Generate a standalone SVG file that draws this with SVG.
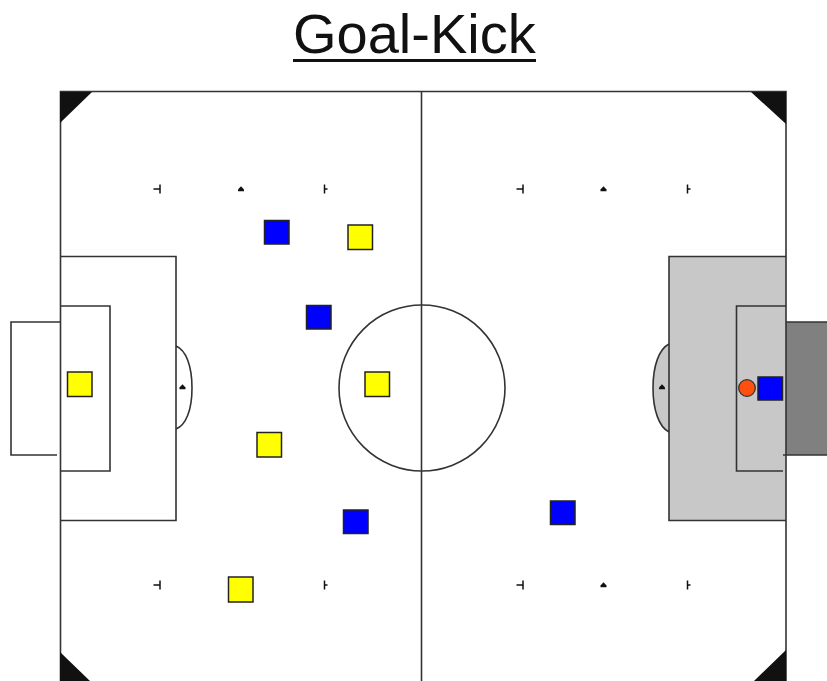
<svg xmlns="http://www.w3.org/2000/svg" width="827" height="681" viewBox="0 0 827 681">
<style>
.l{fill:none;stroke:#333;stroke-width:1.6}
.s{fill:none;stroke:#111;stroke-width:1.5}
.d{fill:#111;stroke:none}
.y{fill:#ffff00;stroke:#222;stroke-width:1.5}
.b{fill:#0000ff;stroke:#222;stroke-width:1.5}
.t{font-family:"Liberation Sans",Arial,sans-serif;font-size:56px;fill:#111}
</style>
<defs>
<path id="tl" class="s" d="M153.500 0H160M160 -4.500V4.500"/>
<path id="tr" class="s" d="M0 -4.500V4.500M0 0H3"/>
<path id="dot" class="d" d="M-3 2.200V0.500L0 -2.800L3 0.500V2.200Z"/>
</defs>
<rect width="827" height="681" fill="#fff"/>
<g id="title">
<text class="t" x="293" y="53">Goal-Kick</text>
<rect x="293" y="59" width="243" height="3" fill="#111"/>
</g>
<g id="field">
<rect x="669" y="256" width="117" height="265" fill="#c8c8c8"/>
<path d="M669 344C659 349 653 366 653 388C653 410 659 427 669 432Z" fill="#c8c8c8"/>
<rect x="786" y="322" width="41" height="133" fill="#808080"/>
<path class="l" d="M60.500 681V91.500H786V681"/>
<path class="l" d="M421.500 91.500V681"/>
<circle class="l" cx="422" cy="388" r="83"/>
<path class="l" d="M60.500 256.500H176V520.500H60.500"/>
<path class="l" d="M60.500 306H110V471H60.500"/>
<path class="l" d="M60 322H11V455H57"/>
<path class="l" d="M176 346C186 350 192 366 192 388C192 410 186 425 176 429"/>
<path class="l" d="M786 256.500H669V520.500H786"/>
<path class="l" d="M786 306H736.500V471H783"/>
<path class="l" d="M827 322H786M827 455H783"/>
<path class="l" d="M669 344C659 349 653 366 653 388C653 410 659 427 669 432"/>
<path class="d" d="M60 92H92L60 123Z"/>
<path class="d" d="M751 92H786V124Z"/>
<path class="d" d="M60 652L90 681H60Z"/>
<path class="d" d="M786 650V681H754Z"/>
</g>
<g id="marks">
<use href="#tl" transform="translate(0 189)"/>
<use href="#dot" transform="translate(241 189)"/>
<use href="#tr" transform="translate(324.500 189)"/>
<use href="#tl" transform="translate(363 189)"/>
<use href="#dot" transform="translate(603.500 189)"/>
<use href="#tr" transform="translate(687.500 189)"/>
<use href="#tl" transform="translate(0 585)"/>
<use href="#tr" transform="translate(324.500 585)"/>
<use href="#tl" transform="translate(363 585)"/>
<use href="#dot" transform="translate(603.500 585)"/>
<use href="#tr" transform="translate(687.500 585)"/>
<use href="#dot" transform="translate(182.500 387)"/>
<use href="#dot" transform="translate(662 387)"/>
</g>
<g id="players">
<rect id="blue-1" class="b" x="264.500" y="220.500" width="24.500" height="23.500"/>
<rect id="yellow-1" class="y" x="348" y="225" width="24.500" height="24.500"/>
<rect id="blue-2" class="b" x="306.500" y="305.500" width="24.500" height="23.500"/>
<rect id="yellow-2" class="y" x="365" y="372" width="24.500" height="24.500"/>
<rect id="yellow-3" class="y" x="67.500" y="372" width="24.500" height="24.500"/>
<rect id="yellow-4" class="y" x="257" y="432.500" width="24.500" height="24.500"/>
<rect id="blue-3" class="b" x="343.500" y="510" width="24.500" height="23.500"/>
<rect id="yellow-5" class="y" x="228.500" y="577" width="24.500" height="25"/>
<rect id="blue-4" class="b" x="550.500" y="501" width="24.500" height="23.500"/>
<rect id="blue-5" class="b" x="758" y="377" width="24.500" height="23"/>
</g>
<circle id="ball" cx="747" cy="388" r="8.300" fill="#ff5010" stroke="#333" stroke-width="1.300"/>
</svg>
